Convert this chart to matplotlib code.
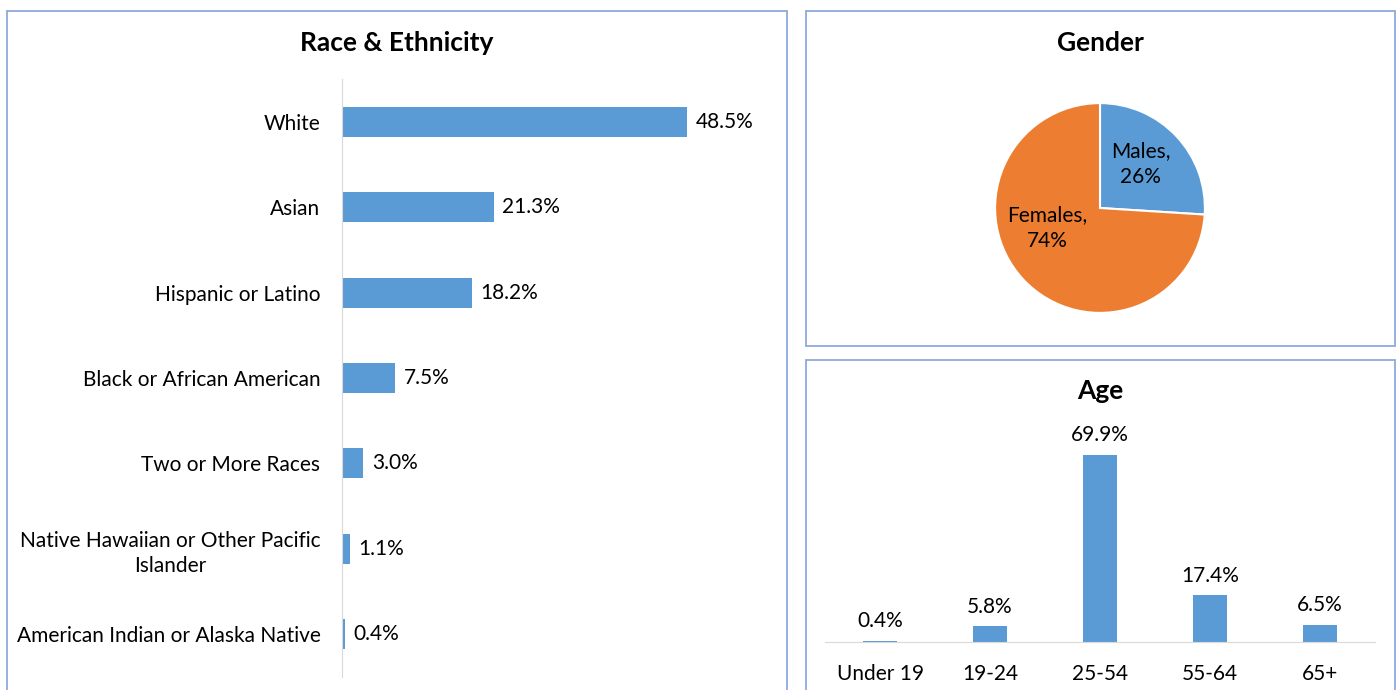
import matplotlib
matplotlib.use("Agg")
import matplotlib.pyplot as plt
import matplotlib.patches as patches

plt.rcParams['font.family'] = ['Lato', 'DejaVu Sans']

# datos
race_labels = ["White", "Asian", "Hispanic or Latino", "Black or African American",
               "Two or More Races", "Native Hawaiian or Other Pacific\nIslander",
               "American Indian or Alaska Native"]
race_values = [48.5, 21.3, 18.2, 7.5, 3.0, 1.1, 0.4]

gender_labels = ["Males", "Females"]
gender_values = [26, 74]

age_labels = ["Under 19", "19-24", "25-54", "55-64", "65+"]
age_values = [0.4, 5.8, 69.9, 17.4, 6.5]

BLUE = '#5B9BD5'
ORANGE = '#ED7D31'
FRAME = '#8EA9DB'
AXIS = '#D9D9D9'
W, H = 1398, 690
FS = 15


def fx(px):
    return px / W


def fy(py):
    return 1 - py / H


fig = plt.figure(figsize=(W / 100, H / 100), dpi=100)

# marcos de los paneles
for x0, y0, x1, y1 in [(7, 11, 787, 700), (806, 11, 1395, 346), (806, 360, 1395, 700)]:
    rect = patches.Rectangle((fx(x0), fy(y1)), fx(x1) - fx(x0), fy(y0) - fy(y1),
                             transform=fig.transFigure, fill=False,
                             edgecolor=FRAME, linewidth=1.3)
    fig.patches.append(rect)

# titulos
fig.text(fx(397), fy(43), "Race & Ethnicity", ha='center', va='center',
         fontsize=19, fontweight='bold')
fig.text(fx(1100), fy(43), "Gender", ha='center', va='center',
         fontsize=19, fontweight='bold')
fig.text(fx(1100), fy(391), "Age", ha='center', va='center',
         fontsize=19, fontweight='bold')

# --- Race & Ethnicity ---
ax1 = fig.add_axes([fx(342), fy(677), fx(769) - fx(342), fy(79) - fy(677)])
ypos = list(range(len(race_values)))
ax1.barh(ypos, race_values, height=0.35, color=BLUE)
ax1.set_ylim(len(race_values) - 0.5, -0.5)
ax1.set_xlim(0, 60)
ax1.set_yticks(ypos)
ax1.set_yticklabels(race_labels, fontsize=FS, multialignment='center', linespacing=1.35)
ax1.tick_params(axis='y', length=0, pad=15.5)
ax1.set_xticks([])
for s in ['top', 'right', 'bottom']:
    ax1.spines[s].set_visible(False)
ax1.spines['left'].set_color(AXIS)
ax1.patch.set_alpha(0)
for y, v in zip(ypos, race_values):
    ax1.annotate(f"{v:.1f}%", (v, y), xytext=(6, 0), textcoords='offset points',
                 ha='left', va='center', fontsize=FS)

# --- Gender ---
r = 107
ax2 = fig.add_axes([fx(1100 - r), fy(208 + r), fx(2 * r), (2 * r) / H])
ax2.pie(gender_values, colors=[BLUE, ORANGE], startangle=90, counterclock=False,
        wedgeprops=dict(edgecolor='white', linewidth=1.5))
ax2.set_xlim(-1.02, 1.02)
ax2.set_ylim(-1.02, 1.02)
ax2.text(0.39, 0.42, f"{gender_labels[0]},\n{gender_values[0]}%", ha='center',
         va='center', fontsize=FS, linespacing=1.35)
ax2.text(-0.5, -0.19, f"{gender_labels[1]},\n{gender_values[1]}%", ha='center',
         va='center', fontsize=FS, linespacing=1.35)

# --- Age ---
ax3 = fig.add_axes([fx(825), fy(642), fx(1375) - fx(825), (642 - 428) / H])
xpos = list(range(len(age_values)))
ax3.bar(xpos, age_values, width=0.31, color=BLUE)
ax3.set_xlim(-0.5, len(age_values) - 0.5)
ax3.set_ylim(0, 80)
ax3.set_xticks(xpos)
ax3.set_xticklabels(age_labels, fontsize=FS)
ax3.tick_params(axis='x', length=0, pad=16)
ax3.set_yticks([])
for s in ['top', 'right', 'left']:
    ax3.spines[s].set_visible(False)
ax3.spines['bottom'].set_color(AXIS)
ax3.patch.set_alpha(0)
for x, v in zip(xpos, age_values):
    ax3.annotate(f"{v:.1f}%", (x, v), xytext=(0, 7), textcoords='offset points',
                 ha='center', va='bottom', fontsize=FS)

fig.savefig("out.png", dpi=100)
